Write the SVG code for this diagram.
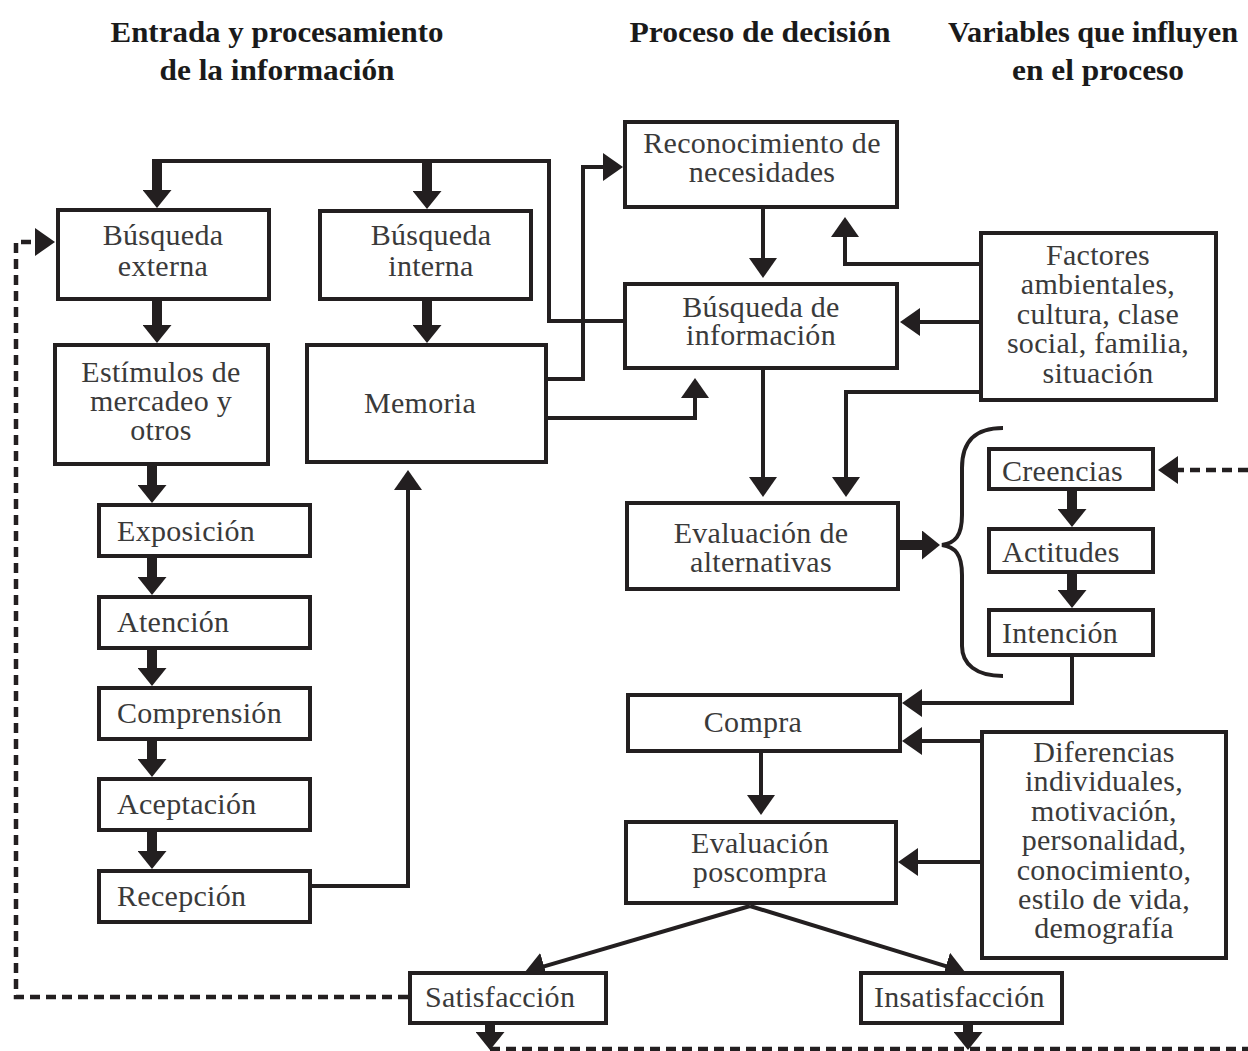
<svg xmlns="http://www.w3.org/2000/svg" width="1248" height="1051" viewBox="0 0 1248 1051">
  <style>
    .box { fill: #ffffff; stroke: #231f20; stroke-width: 4; }
    .t { font-family: "Liberation Serif", "Times New Roman", serif; font-size: 30px; letter-spacing: 0.3px; fill: #3a3a3a; }
    .c { text-anchor: middle; }
    .h { font-family: "Liberation Serif", "Times New Roman", serif; font-size: 29.5px; font-weight: bold; fill: #1a1a1a; text-anchor: middle; }
    .ln { fill: none; stroke: #231f20; stroke-width: 4; }
    .thick { fill: none; stroke: #231f20; stroke-width: 10; }
    .dash { fill: none; stroke: #231f20; stroke-width: 4.5; stroke-dasharray: 10 6; }
    .brace { fill: none; stroke: #231f20; stroke-width: 4; }
  </style>
  <defs>
    <marker id="ah" markerUnits="userSpaceOnUse" markerWidth="20" markerHeight="28" viewBox="0 0 20 28" refX="16" refY="14" orient="auto">
      <path d="M0,0L20,14L0,28z" fill="#231f20"/>
    </marker>
    <marker id="ahk" markerUnits="userSpaceOnUse" markerWidth="18" markerHeight="29" viewBox="0 0 18 29" refX="11" refY="14.5" orient="auto">
      <path d="M0,0L18,14.5L0,29z" fill="#231f20"/>
    </marker>
  </defs>

  <rect width="1248" height="1051" fill="#ffffff"/>

  <!-- column headings -->
  <g id="headings">
    <text class="h" x="277" y="42" textLength="333" lengthAdjust="spacingAndGlyphs">Entrada y procesamiento</text>
    <text class="h" x="277" y="80" textLength="235" lengthAdjust="spacingAndGlyphs">de la información</text>
    <text class="h" x="760" y="42" textLength="261" lengthAdjust="spacingAndGlyphs">Proceso de decisión</text>
    <text class="h" x="1093" y="42" textLength="290" lengthAdjust="spacingAndGlyphs">Variables que influyen</text>
    <text class="h" x="1098" y="80" textLength="172" lengthAdjust="spacingAndGlyphs">en el proceso</text>
  </g>

  <!-- connectors -->
  <g id="connectors">
    <!-- thin connectors -->
    <path class="ln" d="M623,321 H549 V161 H153"/>
    <path class="ln" d="M548,379 H583 V167 H619" marker-end="url(#ah)"/>
    <path class="ln" d="M548,418 H695 V382" marker-end="url(#ah)"/>
    <path class="ln" d="M309,886 H408 V474" marker-end="url(#ah)"/>
    <path class="ln" d="M763,207 V274" marker-end="url(#ah)"/>
    <path class="ln" d="M979,264 H845 V221" marker-end="url(#ah)"/>
    <path class="ln" d="M979,322 H904" marker-end="url(#ah)"/>
    <path class="ln" d="M979,392 H846 V493" marker-end="url(#ah)"/>
    <path class="ln" d="M763,370 V493" marker-end="url(#ah)"/>
    <path class="ln" d="M1072,657 V703 H906" marker-end="url(#ah)"/>
    <path class="ln" d="M980,741 H906" marker-end="url(#ah)"/>
    <path class="ln" d="M761,753 V811" marker-end="url(#ah)"/>
    <path class="ln" d="M980,862 H902" marker-end="url(#ah)"/>
    <path class="ln" d="M750,906 L528.8,970.9" marker-end="url(#ah)"/>
    <path class="ln" d="M750,906 L961.2,970.8" marker-end="url(#ah)"/>

    <!-- thick short arrows -->
    <path class="thick" d="M157,159 V201" marker-end="url(#ahk)"/>
    <path class="thick" d="M427,159 V202" marker-end="url(#ahk)"/>
    <path class="thick" d="M157,301 V336" marker-end="url(#ahk)"/>
    <path class="thick" d="M427,300 V336" marker-end="url(#ahk)"/>
    <path class="thick" d="M152,466 V496" marker-end="url(#ahk)"/>
    <path class="thick" d="M152,558 V588" marker-end="url(#ahk)"/>
    <path class="thick" d="M152,650 V679" marker-end="url(#ahk)"/>
    <path class="thick" d="M152,741 V770" marker-end="url(#ahk)"/>
    <path class="thick" d="M152,832 V862" marker-end="url(#ahk)"/>
    <path class="thick" d="M1072,491 V520" marker-end="url(#ahk)"/>
    <path class="thick" d="M1072,574 V601" marker-end="url(#ahk)"/>
    <path class="thick" d="M900,545 H933" marker-end="url(#ahk)"/>
    <path class="thick" d="M490,1025 V1043" marker-end="url(#ahk)"/>
    <path class="thick" d="M968,1025 V1043" marker-end="url(#ahk)"/>

    <!-- dashed feedback lines -->
    <path class="dash" d="M408,997 H16 V242 H51" marker-end="url(#ah)"/>
    <path class="dash" d="M1248,470 H1162" marker-end="url(#ah)"/>
    <path class="dash" d="M490,1049 H1248"/>

    <!-- brace grouping beliefs, attitudes, intention -->
    <path class="brace" d="M1003,428 C976,428 962,440 962,468 V515 C962,536 955,543 942,545 C955,547 962,554 962,575 V646 C962,664 976,676 1003,676"/>
  </g>

  <!-- information input and processing -->
  <g id="busqueda-externa">
    <rect class="box" x="58" y="210" width="211" height="89"/>
    <text class="t c" x="163" y="245">Búsqueda</text>
    <text class="t c" x="163" y="276">externa</text>
  </g>
  <g id="busqueda-interna">
    <rect class="box" x="320" y="211" width="211" height="88"/>
    <text class="t c" x="431" y="245">Búsqueda</text>
    <text class="t c" x="431" y="276">interna</text>
  </g>
  <g id="estimulos">
    <rect class="box" x="55" y="345" width="213" height="119"/>
    <text class="t c" x="161" y="382">Estímulos de</text>
    <text class="t c" x="161" y="411">mercadeo y</text>
    <text class="t c" x="161" y="440">otros</text>
  </g>
  <g id="memoria">
    <rect class="box" x="307" y="345" width="239" height="117"/>
    <text class="t c" x="420" y="413">Memoria</text>
  </g>
  <g id="exposicion">
    <rect class="box" x="99" y="505" width="211" height="51"/>
    <text class="t" x="117" y="541">Exposición</text>
  </g>
  <g id="atencion">
    <rect class="box" x="99" y="597" width="211" height="51"/>
    <text class="t" x="117" y="632">Atención</text>
  </g>
  <g id="comprension">
    <rect class="box" x="99" y="688" width="211" height="51"/>
    <text class="t" x="117" y="723">Comprensión</text>
  </g>
  <g id="aceptacion">
    <rect class="box" x="99" y="779" width="211" height="51"/>
    <text class="t" x="117" y="814">Aceptación</text>
  </g>
  <g id="recepcion">
    <rect class="box" x="99" y="871" width="211" height="51"/>
    <text class="t" x="117" y="906">Recepción</text>
  </g>

  <!-- decision process -->
  <g id="reconocimiento">
    <rect class="box" x="625" y="122" width="272" height="85"/>
    <text class="t c" x="762" y="153">Reconocimiento de</text>
    <text class="t c" x="762" y="182">necesidades</text>
  </g>
  <g id="busqueda-informacion">
    <rect class="box" x="625" y="284" width="272" height="84"/>
    <text class="t c" x="761" y="317">Búsqueda de</text>
    <text class="t c" x="761" y="345">información</text>
  </g>
  <g id="evaluacion-alternativas">
    <rect class="box" x="627" y="503" width="271" height="86"/>
    <text class="t c" x="761" y="543">Evaluación de</text>
    <text class="t c" x="761" y="572">alternativas</text>
  </g>
  <g id="compra">
    <rect class="box" x="628" y="695" width="272" height="56"/>
    <text class="t c" x="753" y="732">Compra</text>
  </g>
  <g id="evaluacion-poscompra">
    <rect class="box" x="626" y="822" width="270" height="81"/>
    <text class="t c" x="760" y="853">Evaluación</text>
    <text class="t c" x="760" y="882">poscompra</text>
  </g>
  <g id="satisfaccion">
    <rect class="box" x="410" y="973" width="196" height="50"/>
    <text class="t" x="425" y="1007">Satisfacción</text>
  </g>
  <g id="insatisfaccion">
    <rect class="box" x="861" y="973" width="201" height="50"/>
    <text class="t" x="874" y="1007">Insatisfacción</text>
  </g>

  <!-- influencing variables -->
  <g id="factores">
    <rect class="box" x="981" y="233" width="235" height="167"/>
    <text class="t c" x="1098" y="265">Factores</text>
    <text class="t c" x="1098" y="294">ambientales,</text>
    <text class="t c" x="1098" y="324">cultura, clase</text>
    <text class="t c" x="1098" y="353">social, familia,</text>
    <text class="t c" x="1098" y="383">situación</text>
  </g>
  <g id="creencias">
    <rect class="box" x="989" y="449" width="164" height="40"/>
    <text class="t" x="1002" y="481">Creencias</text>
  </g>
  <g id="actitudes">
    <rect class="box" x="989" y="529" width="164" height="43"/>
    <text class="t" x="1002" y="562">Actitudes</text>
  </g>
  <g id="intencion">
    <rect class="box" x="989" y="610" width="164" height="45"/>
    <text class="t" x="1002" y="643">Intención</text>
  </g>
  <g id="diferencias">
    <rect class="box" x="982" y="732" width="244" height="226"/>
    <text class="t c" x="1104" y="762">Diferencias</text>
    <text class="t c" x="1104" y="791">individuales,</text>
    <text class="t c" x="1104" y="821">motivación,</text>
    <text class="t c" x="1104" y="850">personalidad,</text>
    <text class="t c" x="1104" y="880">conocimiento,</text>
    <text class="t c" x="1104" y="909">estilo de vida,</text>
    <text class="t c" x="1104" y="938">demografía</text>
  </g>
</svg>
